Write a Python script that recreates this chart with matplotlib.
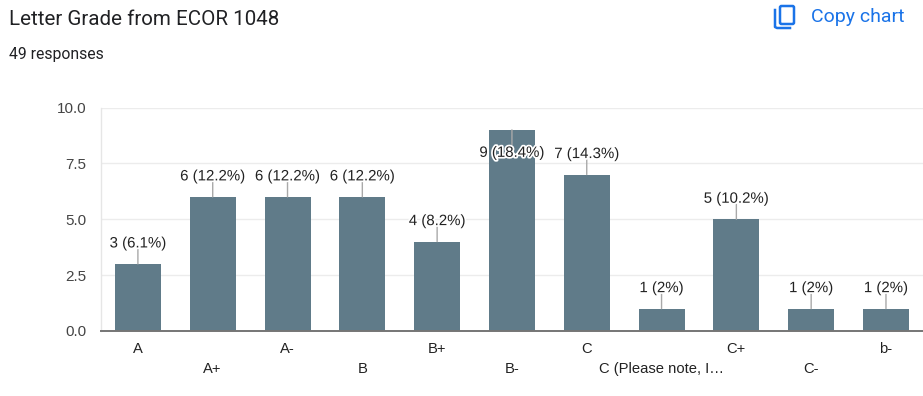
import matplotlib
matplotlib.use("Agg")
import matplotlib.pyplot as plt
import matplotlib.patheffects as pe
from matplotlib.patches import FancyBboxPatch

# Chart data
grades = ["A", "A+", "A-", "B", "B+", "B-", "C", "C (Please note, I\u2026", "C+", "C-", "b-"]
counts = [3, 6, 6, 6, 4, 9, 7, 1, 5, 1, 1]
percents = ["6.1", "12.2", "12.2", "12.2", "8.2", "18.4", "14.3", "2", "10.2", "2", "2"]
y_ticks = [0.0, 2.5, 5.0, 7.5, 10.0]

W, H = 923, 396
BAR_COLOR = "#607b89"
PX = 72 / 100  # points per pixel at dpi 100

fig = plt.figure(figsize=(W / 100, H / 100), dpi=100)
ax = fig.add_axes([100.5 / W, (H - 331) / H, (W - 100.5) / W, (331 - 107.5) / H])

x = list(range(len(grades)))
ax.bar(x, counts, width=0.615, color=BAR_COLOR, zorder=2)

ax.set_xlim(-0.5, 10.495)
ax.set_ylim(0, 10)
ax.set_yticks(y_ticks)
ax.set_yticklabels([f"{t:.1f}" for t in y_ticks], fontsize=11, color="#444444", family="Liberation Sans")
ax.set_xticks(x)
ax.set_xticklabels(grades, fontsize=10.6, color="#222222", family="Liberation Sans")
ax.tick_params(axis="y", length=0, pad=10)
ax.tick_params(axis="x", length=0)

# Staggered category labels, two rows
for i, tick in enumerate(ax.xaxis.get_major_ticks()):
    tick.set_pad((11 if i % 2 == 0 else 31) * PX)

ax.grid(axis="y", color="#ececec", linewidth=1, zorder=0)
ax.set_axisbelow(True)
for side in ["top", "right"]:
    ax.spines[side].set_visible(False)
ax.spines["left"].set_color("#e6e6e6")
ax.spines["left"].set_linewidth(1)
ax.spines["bottom"].set_color("#757575")
ax.spines["bottom"].set_linewidth(1.4)
ax.spines["bottom"].set_zorder(4)

# Value labels with leader lines; the tallest bar has no room above, so its label goes inside
for xi, c, p in zip(x, counts, percents):
    inside = c == max(counts)
    line_off = -15 if inside else 15
    text_off = -23 if inside else 20.5
    ax.annotate("", xy=(xi, c), xytext=(0, line_off * PX), textcoords="offset points",
                arrowprops=dict(arrowstyle="-", color="#a9a9a9", lw=1, shrinkA=0, shrinkB=0), zorder=3)
    ax.annotate(f"{c} ({p}%)", xy=(xi, c), xytext=(0, text_off * PX), textcoords="offset points",
                ha="center", va="center", fontsize=10.8, color="#222222", family="Liberation Sans",
                path_effects=[pe.withStroke(linewidth=2.5, foreground="white")], zorder=5)

# Header text
fig.text(9 / W, 1 - 19.5 / H, "Letter Grade from ECOR 1048", fontsize=14.8, color="#202124",
         family="Roboto", va="center")
fig.text(9 / W, 1 - 54 / H, "49 responses", fontsize=11.3, color="#202124",
         family="Roboto", va="center")
fig.text(811 / W, 1 - 17 / H, "Copy chart", fontsize=14, color="#1a73e8",
         family="Roboto", va="center")

# Copy icon, in pixel coordinates
overlay = fig.add_axes([0, 0, 1, 1], facecolor="none")
overlay.set_xlim(0, W)
overlay.set_ylim(H, 0)
overlay.axis("off")
overlay.add_patch(FancyBboxPatch((780, 6), 14, 18, boxstyle="round,pad=0,rounding_size=1.5",
                                 fill=False, ec="#1a73e8", lw=1.8))
overlay.plot([775, 775, 777, 790], [10, 27, 28, 28], color="#1a73e8", lw=1.8)

fig.savefig("out.png", dpi=100)
